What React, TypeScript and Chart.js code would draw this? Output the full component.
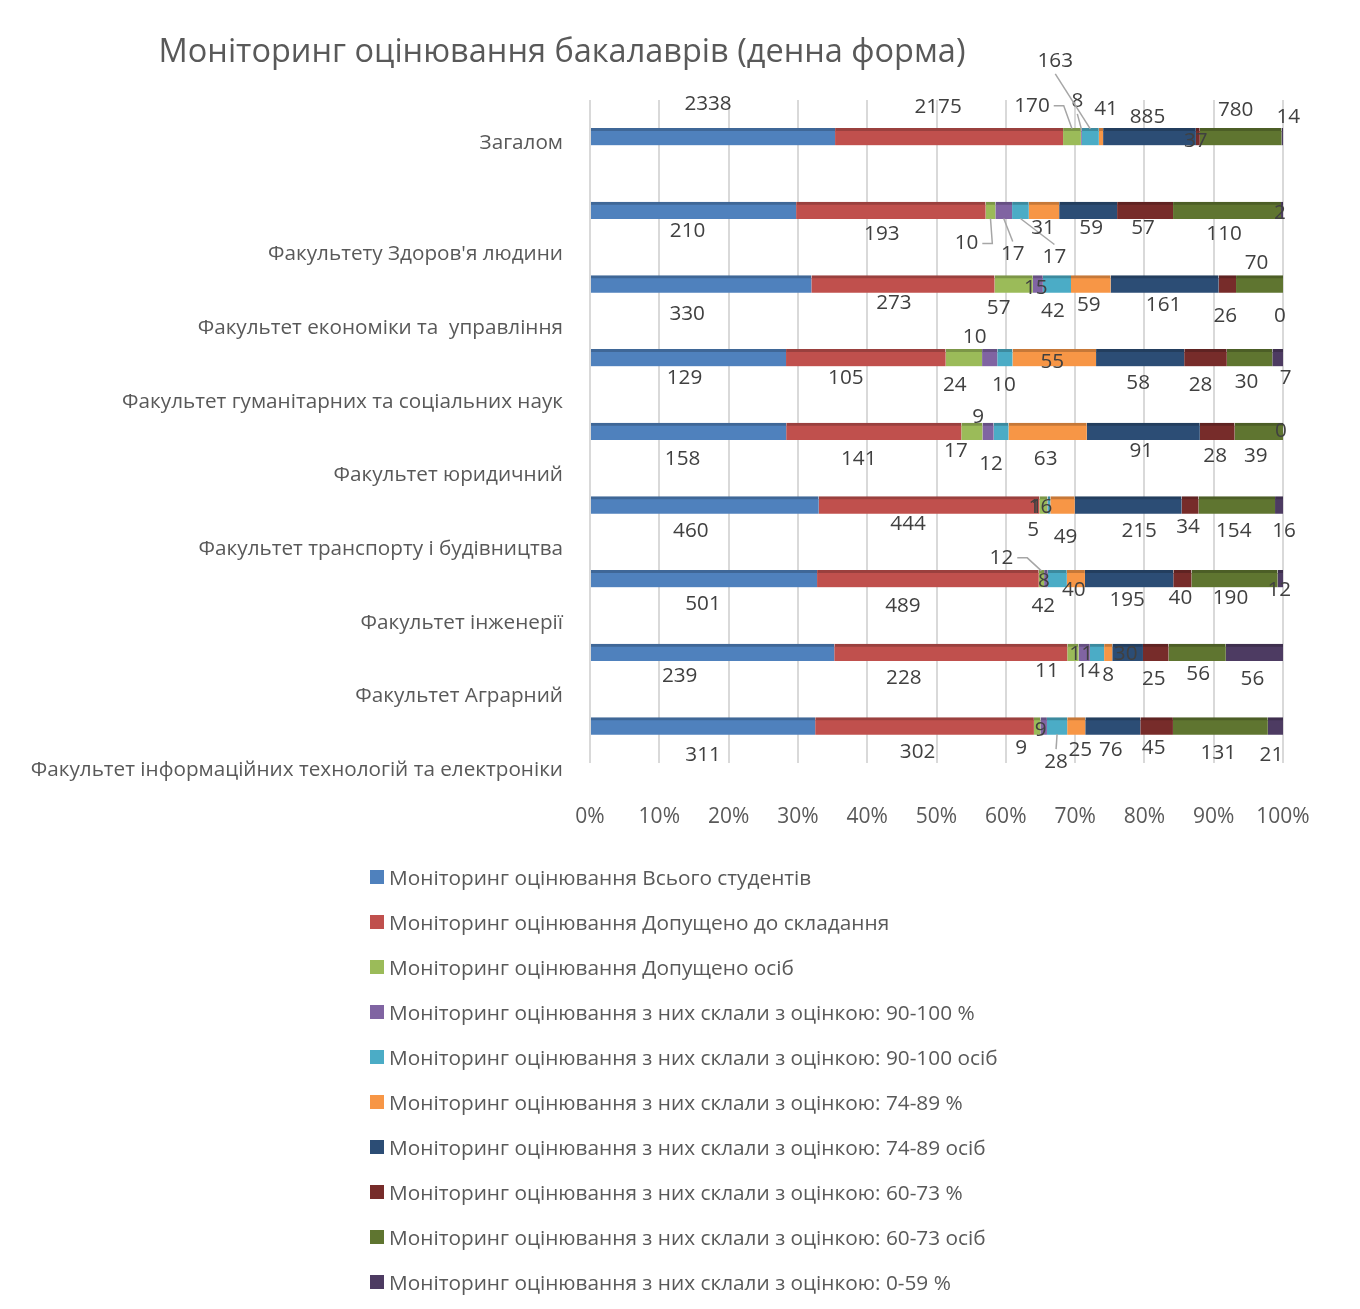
import React, { useEffect, useRef } from 'react';
import { Chart, registerables } from 'chart.js';

Chart.register(...registerables);

const FONT = "'Open Sans', 'Noto Sans', 'DejaVu Sans', sans-serif";

const chartTitle = 'Моніторинг оцінювання бакалаврів (денна форма)';

const categories = [
  'Загалом',
  "Факультету Здоров'я людини",
  'Факультет економіки та  управління',
  'Факультет гуманітарних та соціальних наук',
  'Факультет юридичний',
  'Факультет транспорту і будівництва',
  'Факультет інженерії',
  'Факультет Аграрний',
  'Факультет інформаційних технологій та електроніки',
];

const seriesNames = [
  'Моніторинг оцінювання Всього студентів',
  'Моніторинг оцінювання Допущено до складання',
  'Моніторинг оцінювання Допущено осіб',
  'Моніторинг оцінювання з них склали з оцінкою: 90-100 %',
  'Моніторинг оцінювання з них склали з оцінкою: 90-100 осіб',
  'Моніторинг оцінювання з них склали з оцінкою: 74-89 %',
  'Моніторинг оцінювання з них склали з оцінкою: 74-89 осіб',
  'Моніторинг оцінювання з них склали з оцінкою: 60-73 %',
  'Моніторинг оцінювання з них склали з оцінкою: 60-73 осіб',
  'Моніторинг оцінювання з них склали з оцінкою: 0-59 %',
];

const totalStudents = [2338, 210, 330, 129, 158, 460, 501, 239, 311];
const admittedToExam = [2175, 193, 273, 105, 141, 444, 489, 228, 302];
const admittedPersons = [170, 10, 57, 24, 17, 16, 12, 11, 9];
const grade90Pct = [8, 17, 15, 10, 9, 1, 8, 11, 9];
const grade90Persons = [163, 17, 42, 10, 12, 5, 42, 14, 28];
const grade74Pct = [41, 31, 59, 55, 63, 49, 40, 8, 25];
const grade74Persons = [885, 59, 161, 58, 91, 215, 195, 30, 76];
const grade60Pct = [37, 57, 26, 28, 28, 34, 40, 25, 45];
const grade60Persons = [780, 110, 70, 30, 39, 154, 190, 56, 131];
const grade0Pct = [14, 2, 0, 7, 0, 16, 12, 56, 21];

const seriesValues = [
  totalStudents,
  admittedToExam,
  admittedPersons,
  grade90Pct,
  grade90Persons,
  grade74Pct,
  grade74Persons,
  grade60Pct,
  grade60Persons,
  grade0Pct,
];

const seriesColors = [
  '#4F81BD', '#C0504D', '#9BBB59', '#8064A2', '#4BACC6',
  '#F79646', '#2C4D75', '#772C2A', '#5F7530', '#4D3B62',
];

// label placement nudges [dx, dy, leaderMode] per category, per series (layout only)
// leaderMode: 1 = leader from label side, 2 = leader from label top/bottom
const LABEL_NUDGE: [number, number, number?][][] = [
  [[-5, -33], [-11, -30], [-40, -31, 1], [-4, -36, 2], [-35, -76, 2], [5, -28], [-2, -20], [-2, 4], [-5, -27], [6, -20]],
  [[-6, 21], [-9, 24], [-24, 33, 1], [9, 44, 2], [34, 47, 2], [-1, 18], [3, 18], [-2, 18], [-3, 24], [-2, 3]],
  [[-14, 30], [-9, 19], [-15, 24], [-2, 4], [-4, 27], [-2, 21], [-1, 21], [-2, 32], [-3, -21], [-3, 32]],
  [[-4, 20], [-20, 20], [-9, 27], [-15, -21], [-1, 27], [-2, 4], [-2, 25], [-5, 27], [-3, 24], [8, 20]],
  [[-6, 28], [-15, 28], [-16, 20], [-10, -14], [-10, 33], [-2, 28], [-2, 20], [-2, 25], [-3, 25], [-2, 0]],
  [[-14, 26], [-21, 19], [-3, 2], [-11, 2], [-16, 25], [3, 32], [11, 26], [-2, 22], [-3, 26], [5, 26]],
  [[-1, 25], [-25, 27], [-40, -21, 1], [-2, 2], [-14, 27], [-2, 11], [-2, 21], [-2, 19], [-4, 19], [-1, 11]],
  [[-33, 24], [-47, 26], [-26, 19], [-3, 2], [-9, 19], [0, 23], [-2, 2], [-2, 27], [1, 22], [-2, 27]],
  [[0, 29], [-7, 26], [-16, 22], [-3, 4], [-1, 36, 2], [4, 24], [-2, 24], [-3, 22], [-2, 27], [-4, 29]],
];

function darken(hex: string, f: number) {
  const n = parseInt(hex.slice(1), 16);
  const r = Math.round(((n >> 16) & 255) * f);
  const g = Math.round(((n >> 8) & 255) * f);
  const b = Math.round((n & 255) * f);
  return `rgb(${r},${g},${b})`;
}

const titlePlugin = {
  id: 'customTitle',
  afterDraw(chart: any) {
    const ctx = chart.ctx;
    ctx.save();
    ctx.font = `32.5px ${FONT}`;
    ctx.fillStyle = '#595959';
    ctx.textAlign = 'center';
    ctx.textBaseline = 'middle';
    ctx.fillText(chartTitle, 555, 46);
    ctx.restore();
  },
};

const categoryLabelPlugin = {
  id: 'categoryLabels',
  afterDraw(chart: any) {
    const ctx = chart.ctx;
    const yScale = chart.scales.y;
    ctx.save();
    ctx.font = `20.7px ${FONT}`;
    ctx.fillStyle = '#595959';
    ctx.textAlign = 'right';
    ctx.textBaseline = 'middle';
    categories.forEach((c, j) => {
      const y = yScale.getPixelForValue(j) + (j === 0 ? 6 : 44);
      ctx.fillText(c, chart.chartArea.left - 27, y);
    });
    ctx.restore();
  },
};

const valueLabelPlugin = {
  id: 'valueLabels',
  afterDatasetsDraw(chart: any) {
    const ctx = chart.ctx;
    ctx.save();
    ctx.font = `20.7px ${FONT}`;
    ctx.textAlign = 'center';
    ctx.textBaseline = 'middle';
    chart.data.datasets.forEach((_ds: any, i: number) => {
      const meta = chart.getDatasetMeta(i);
      meta.data.forEach((el: any, j: number) => {
        const raw = seriesValues[i][j];
        const nudge = LABEL_NUDGE[j][i];
        const cx = (el.x + el.base) / 2;
        const tx = cx + nudge[0];
        const ty = el.y + nudge[1];
        const text = String(raw);
        const mode = nudge[2];
        if (mode) {
          const w = ctx.measureText(text).width;
          const barEdge = el.y + (nudge[1] < 0 ? -8 : 8);
          ctx.strokeStyle = '#a6a6a6';
          ctx.lineWidth = 1.5;
          ctx.beginPath();
          if (mode === 1) {
            const sx = tx + (nudge[0] < 0 ? w / 2 + 4 : -w / 2 - 4);
            ctx.moveTo(sx, ty);
            const kx = sx + (nudge[0] < 0 ? 10 : -10);
            ctx.lineTo(kx, ty);
            ctx.lineTo(cx, barEdge);
          } else {
            const sy = ty + (nudge[1] < 0 ? 13 : -13);
            ctx.moveTo(tx, sy);
            ctx.lineTo(cx, barEdge);
          }
          ctx.stroke();
        }
        ctx.fillStyle = '#404040';
        ctx.fillText(text, tx, ty);
      });
    });
    ctx.restore();
  },
};

export default function App() {
  const canvasRef = useRef<HTMLCanvasElement | null>(null);

  useEffect(() => {
    const canvas = canvasRef.current;
    if (!canvas) return;
    const totals = categories.map((_, j) =>
      seriesValues.reduce((s, arr) => s + arr[j], 0)
    );
    const datasets = seriesNames.map((name, i) => ({
      label: name,
      data: seriesValues[i].map((v, j) => (v / totals[j]) * 100),
      backgroundColor: seriesColors[i],
      borderColor: darken(seriesColors[i], 0.8),
      borderWidth: { top: 3, left: 0, right: 0, bottom: 0 },
      borderSkipped: false as const,
      barThickness: 17,
    }));

    const chart = new Chart(canvas, {
      type: 'bar',
      data: { labels: categories, datasets },
      options: {
        indexAxis: 'y',
        animation: false,
        responsive: false,
        maintainAspectRatio: false,
        layout: { padding: { top: 93, right: 70, bottom: 24, left: 0 } },
        plugins: {
          legend: { display: false },
          title: { display: false },
          tooltip: { enabled: false },
        },
        scales: {
          x: {
            stacked: true,
            min: 0,
            max: 100,
            ticks: {
              stepSize: 10,
              callback: (v: any) => `${v}%`,
              font: { size: 21, family: FONT },
              color: '#595959',
              padding: 41,
            },
            grid: { color: '#d9d9d9', lineWidth: 2, drawTicks: false },
            border: { display: false },
            afterFit: (s: any) => {
              s.height = 70;
            },
          },
          y: {
            stacked: true,
            ticks: { display: false },
            grid: { display: false },
            border: { display: false },
            afterFit: (s: any) => {
              s.width = 583;
            },
          },
        },
      },
      plugins: [titlePlugin, categoryLabelPlugin, valueLabelPlugin],
    });
    return () => chart.destroy();
  }, []);

  return (
    <div
      style={{
        position: 'relative',
        width: 1348,
        height: 1312,
        marginLeft: -2,
        marginTop: -2,
        border: '1px solid #d9d9d9',
        boxSizing: 'border-box',
        background: '#fff',
        fontFamily: FONT,
      }}
    >
      <canvas
        ref={canvasRef}
        width={1346}
        height={850}
        style={{ position: 'absolute', left: 0, top: 0 }}
      />
      <div style={{ position: 'absolute', left: 363, top: 847 }}>
        {seriesNames.map((n, i) => (
          <div
            key={n}
            style={{
              height: 45.1,
              display: 'flex',
              alignItems: 'center',
              whiteSpace: 'nowrap',
              fontSize: 20.8,
              color: '#595959',
            }}
          >
            <span
              style={{
                display: 'inline-block',
                width: 14,
                height: 14,
                background: seriesColors[i],
                marginRight: 5,
                flex: 'none',
              }}
            />
            <span>{n}</span>
          </div>
        ))}
      </div>
    </div>
  );
}
